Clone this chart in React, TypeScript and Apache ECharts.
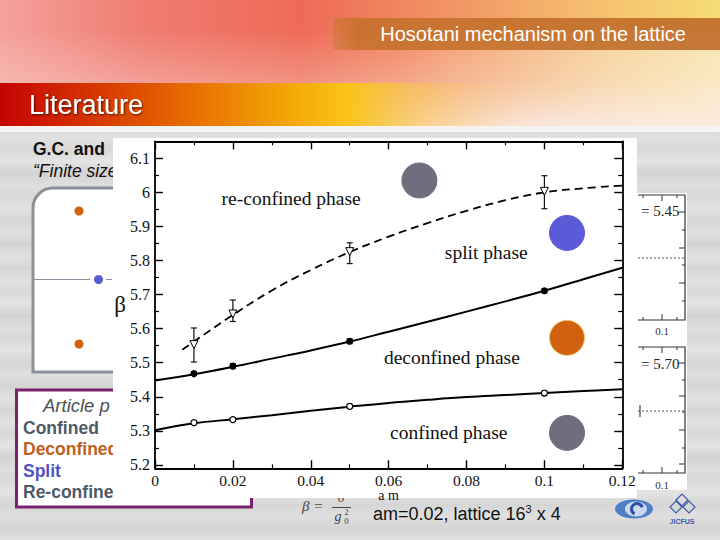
import React, { useEffect, useRef } from 'react';
import * as echarts from 'echarts';

// ---- data ----
const xTickValues = [0, 0.02, 0.04, 0.06, 0.08, 0.1, 0.12];
const yMajorTicks = [5.2, 5.3, 5.4, 5.5, 5.6, 5.7, 5.8, 5.9, 6.0, 6.1];
const yMinorTicks = [5.25, 5.35, 5.45, 5.55, 5.65, 5.75, 5.85, 5.95, 6.05];

const amPoints = [0.01, 0.02, 0.05, 0.1];
const confinedBeta = [5.324, 5.333, 5.372, 5.411];
const confinedLow = [5.319, 5.328, 5.366, 5.405];
const confinedHigh = [5.329, 5.338, 5.378, 5.417];
const deconfinedBeta = [5.468, 5.49, 5.563, 5.711];
const deconfinedLow = [5.463, 5.483, 5.556, 5.705];
const deconfinedHigh = [5.473, 5.497, 5.57, 5.717];
const splitBeta = [5.553, 5.643, 5.826, 6.003];
const splitLow = [5.502, 5.621, 5.791, 5.952];
const splitHigh = [5.602, 5.684, 5.852, 6.049];

const fitX = [0, 0.01, 0.02, 0.03, 0.04, 0.05, 0.06, 0.07, 0.08, 0.09, 0.1, 0.11, 0.12];
const confinedFit = [5.302, 5.322, 5.334, 5.346, 5.359, 5.371, 5.382, 5.391, 5.399, 5.405, 5.411, 5.417, 5.422];
const deconfinedFit = [5.448, 5.466, 5.488, 5.512, 5.536, 5.562, 5.591, 5.62, 5.65, 5.68, 5.711, 5.745, 5.779];
const splitFitX = [0.007, 0.01, 0.02, 0.03, 0.04, 0.05, 0.06, 0.07, 0.08, 0.09, 0.1, 0.11, 0.12];
const splitFit = [5.538, 5.562, 5.64, 5.712, 5.772, 5.825, 5.87, 5.91, 5.946, 5.977, 6.0, 6.012, 6.02];

const phaseX = [0.0679, 0.1058, 0.1058, 0.1058];
const phaseY = [6.035, 5.881, 5.573, 5.294];
const phaseColors = ['#6e6e7e', '#5b5bd8', '#d0620f', '#6e6e7e'];

const phaseLabels = ['re-confined phase', 'split phase', 'deconfined phase', 'confined phase'];
const legendWords = ['Confined', 'Deconfined', 'Split', 'Re-confined'];

const SERIF = '"Liberation Serif", "Times New Roman", serif';
const SANS = '"Liberation Sans", Arial, sans-serif';

function txt(text: string, x: number, y: number, font: string, fill: string, align = 'left', z = 0, extra: any = {}) {
  return {
    type: 'text',
    z,
    style: { text, x, y, font, fill, align, verticalAlign: 'middle', textAlign: align, textVerticalAlign: 'middle', ...extra },
  };
}
function ln(x1: number, y1: number, x2: number, y2: number, stroke: string, lineWidth: number, z = 0, extra: any = {}) {
  return { type: 'line', z, shape: { x1, y1, x2, y2 }, style: { stroke, lineWidth, ...extra } };
}

function buildGraphics() {
  const g: any[] = [];
  // brushed-metal background
  const streak = ['#d5d5d5', '#e1e1e1', '#d8d8d8', '#e4e4e4', '#d3d3d3', '#dedede', '#d9d9d9', '#e3e3e3', '#d6d6d6', '#dfdfdf', '#d4d4d4', '#e2e2e2'];
  const stops = [] as any[];
  for (let i = 0; i < 36; i++) stops.push({ offset: i / 35, color: streak[i % streak.length] });
  g.push({ type: 'rect', z: -100, shape: { x: 0, y: 126, width: 720, height: 414 }, style: { fill: new echarts.graphic.LinearGradient(0, 0, 0, 1, stops) } });
  // header
  g.push({
    type: 'rect', z: -99, shape: { x: 0, y: 0, width: 720, height: 130 },
    style: { fill: new echarts.graphic.LinearGradient(0, 0, 1, 0, [
      { offset: 0, color: '#f3a29a' }, { offset: 0.2, color: '#f07c72' }, { offset: 0.42, color: '#ee6a56' },
      { offset: 0.65, color: '#f29a66' }, { offset: 0.85, color: '#f5c470' }, { offset: 1, color: '#f6dc74' }]) },
  });
  g.push({
    type: 'rect', z: -98, shape: { x: 0, y: 30, width: 720, height: 100 },
    style: { fill: new echarts.graphic.LinearGradient(0, 0, 0, 1, [
      { offset: 0, color: 'rgba(250,236,230,0)' }, { offset: 0.5, color: 'rgba(250,232,224,0.3)' }, { offset: 1, color: 'rgba(251,240,236,0.85)' }]) },
  });
  g.push({
    type: 'rect', z: -97, shape: { x: 0, y: 30, width: 720, height: 100 },
    style: { fill: new echarts.graphic.LinearGradient(0, 0, 1, 0, [
      { offset: 0, color: 'rgba(250,236,230,0)' }, { offset: 0.55, color: 'rgba(250,236,230,0)' }, { offset: 1, color: 'rgba(251,238,232,0.55)' }]) },
  });
  g.push({ type: 'rect', z: -96, shape: { x: 0, y: 126, width: 720, height: 6 }, style: { fill: 'rgba(245,245,245,0.9)' } });
  // Literature bar
  g.push({
    type: 'rect', z: -95, shape: { x: 0, y: 83, width: 720, height: 43 },
    style: { fill: new echarts.graphic.LinearGradient(0, 0, 1, 0, [
      { offset: 0, color: '#c40404' }, { offset: 0.14, color: '#d83a02' }, { offset: 0.28, color: '#e87402' },
      { offset: 0.4, color: '#f3a606' }, { offset: 0.48, color: '#f8c414' }, { offset: 0.58, color: 'rgba(248,200,70,0.55)' },
      { offset: 0.72, color: 'rgba(248,200,120,0)' }, { offset: 1, color: 'rgba(248,200,120,0)' }]) },
  });
  g.push(txt('Literature', 29, 105, `27px ${SANS}`, '#ffffff', 'left', -94, { textShadowColor: 'rgba(0,0,0,0.65)', textShadowBlur: 2, textShadowOffsetX: 1, textShadowOffsetY: 1 }));
  // title bar
  g.push({
    type: 'rect', z: -95, shape: { x: 333, y: 18, width: 387, height: 32 },
    style: { fill: new echarts.graphic.LinearGradient(0, 0, 1, 0, [
      { offset: 0, color: 'rgba(200,120,50,0.45)' }, { offset: 0.06, color: 'rgba(196,112,42,0.85)' }, { offset: 1, color: 'rgba(190,106,40,0.9)' }]) },
  });
  g.push(txt('Hosotani mechanism on the lattice', 686, 34, `20px ${SANS}`, '#ffffff', 'right', -94));

  // left content (behind the main panel)
  g.push(txt('G.C. and', 33, 149, `bold 17.5px ${SANS}`, '#111111', 'left', -90));
  g.push(txt('\u201CFinite size', 33, 171, `italic 17.5px ${SANS}`, '#111111', 'left', -90));
  g.push({ type: 'rect', z: -90, shape: { x: 33, y: 188, width: 200, height: 184, r: [20, 0, 0, 0] }, style: { fill: '#ffffff', stroke: '#8a9098', lineWidth: 3 } });
  g.push({ type: 'circle', z: -89, shape: { cx: 79, cy: 211, r: 4.5 }, style: { fill: '#d0620f' } });
  g.push({ type: 'circle', z: -89, shape: { cx: 79, cy: 344, r: 4.5 }, style: { fill: '#d0620f' } });
  g.push(ln(34, 279.5, 90, 279.5, '#8a90a0', 1, -89));
  g.push(ln(106, 279.5, 112, 279.5, '#8a90a0', 1, -89));
  g.push({ type: 'circle', z: -89, shape: { cx: 98.5, cy: 279.5, r: 4.5 }, style: { fill: '#5b5bd0' } });
  // purple legend box
  g.push({ type: 'rect', z: -90, shape: { x: 16.5, y: 390, width: 235, height: 117 }, style: { fill: '#ffffff', stroke: '#7b226f', lineWidth: 3 } });
  g.push(txt('Article p', 43, 405, `italic 18.5px ${SANS}`, '#4a5058', 'left', -89));
  const legendColors = ['#4d5a66', '#c0601a', '#5252c2', '#4d5a66'];
  const legendY = [427.5, 449.3, 470.7, 491.5];
  legendWords.forEach((w, i) => g.push(txt(w, 23, legendY[i], `bold 17.5px ${SANS}`, legendColors[i], 'left', -89)));

  // formula numerator (mostly hidden by the panel)
  g.push(txt('6', 341, 497, `italic 13px ${SERIF}`, '#444444', 'center', -85));

  // main white panel and right inset panel
  g.push({ type: 'rect', z: -80, shape: { x: 113, y: 138, width: 524, height: 360 }, style: { fill: '#ffffff' } });
  g.push({ type: 'rect', z: -80, shape: { x: 637, y: 193, width: 50, height: 297 }, style: { fill: '#ffffff' } });

  // right inset details
  const ink = '#333333';
  g.push({ type: 'polyline', z: -79, shape: { points: [[638, 195], [685, 195], [685, 320], [638, 320]] }, style: { stroke: ink, lineWidth: 1.2, fill: 'none' } });
  g.push({ type: 'polyline', z: -79, shape: { points: [[638, 347], [685, 347], [685, 473], [638, 473]] }, style: { stroke: ink, lineWidth: 1.2, fill: 'none' } });
  [[643, 3], [662, 6], [677, 3]].forEach(([x, l]) => {
    g.push(ln(x, 195, x, 195 + l, ink, 1, -79));
    g.push(ln(x, 320, x, 320 - l, ink, 1, -79));
    g.push(ln(x, 347, x, 347 + l, ink, 1, -79));
    g.push(ln(x, 473, x, 473 - l, ink, 1, -79));
  });
  [[212, 6], [230, 3], [248, 6], [265, 3], [283, 6], [301, 3], [363, 6], [380, 3], [396, 6], [412, 3], [430, 6], [448, 3], [464, 6]].forEach(([y, l]) => {
    g.push(ln(685, y, 685 - l, y, ink, 1, -79));
  });
  g.push(txt('= 5.45', 641, 211, `15px ${SERIF}`, '#222222', 'left', -79));
  g.push(txt('= 5.70', 641, 364, `15px ${SERIF}`, '#222222', 'left', -79));
  g.push(ln(638, 258, 684, 258, '#555555', 1, -79, { lineDash: [2, 2] }));
  g.push(ln(638, 411, 684, 411, '#555555', 1, -79, { lineDash: [2, 2] }));
  g.push(ln(640, 405, 640, 417, '#444444', 1.2, -79));
  g.push(txt('0.1', 662, 331, `11px ${SERIF}`, '#333333', 'center', -79));
  g.push(txt('0.1', 662, 485, `11px ${SERIF}`, '#333333', 'center', -79));

  // phase labels inside the plot
  const lx = [221.6, 444.8, 383.9, 390];
  const ly = [198.1, 252.8, 357.9, 432.5];
  phaseLabels.forEach((t, i) => g.push(txt(t, lx[i], ly[i], `19.5px ${SERIF}`, '#111111', 'left', 20)));

  // bottom formula and caption
  g.push(txt('\u03B2 =', 302, 506, `italic 15px ${SERIF}`, '#444444', 'left', 20));
  g.push(ln(332, 507.5, 351, 507.5, '#444444', 1, 20));
  g.push(txt('g', 338, 516.5, `italic 14px ${SERIF}`, '#444444', 'center', 20));
  g.push(txt('0', 346.5, 520.5, `9px ${SERIF}`, '#444444', 'center', 20));
  g.push(txt('2', 346.5, 512, `8px ${SERIF}`, '#444444', 'center', 20));
  g.push({
    type: 'text', z: 20,
    style: {
      text: '{a|am=0.02, lattice 16}{s|3}{a| x 4}', x: 373, y: 513.5,
      align: 'left', verticalAlign: 'middle', textAlign: 'left', textVerticalAlign: 'middle',
      rich: {
        a: { fontSize: 18, fontFamily: SANS, fill: '#111111', color: '#111111', lineHeight: 20 },
        s: { fontSize: 11, fontFamily: SANS, fill: '#111111', color: '#111111', verticalAlign: 'top', lineHeight: 12 },
      },
    },
  });
  // logos
  g.push({ type: 'ellipse', z: 20, shape: { cx: 634, cy: 509, rx: 19, ry: 9.5 }, style: { fill: '#4f7ec6' } });
  g.push({ type: 'ellipse', z: 21, shape: { cx: 636, cy: 509, rx: 11, ry: 7.5 }, style: { fill: '#c9d8ef' } });
  g.push({ type: 'arc', z: 22, shape: { cx: 637, cy: 509, r: 5.5, startAngle: 0.65 * Math.PI, endAngle: 1.9 * Math.PI, clockwise: true }, style: { stroke: '#2b4f9c', lineWidth: 3, fill: 'none' } });
  g.push({ type: 'polygon', z: 20, shape: { points: [[676, 500], [682, 494], [688, 500], [682, 506]] }, style: { fill: 'none', stroke: '#3a5aa8', lineWidth: 1.2 } });
  g.push({ type: 'polygon', z: 20, shape: { points: [[683, 507], [689, 501], [695, 507], [689, 513]] }, style: { fill: 'none', stroke: '#3a5aa8', lineWidth: 1.2 } });
  g.push({ type: 'polygon', z: 20, shape: { points: [[670, 507], [676, 501], [682, 507], [676, 513]] }, style: { fill: 'none', stroke: '#3a5aa8', lineWidth: 1.2 } });
  g.push(txt('JICFUS', 682, 521, `bold 7px ${SANS}`, '#3a5aa8', 'center', 20));
  return g;
}

function errorBarItem(params: any, api: any) {
  const x = api.value(0);
  const p1 = api.coord([x, api.value(1)]);
  const p2 = api.coord([x, api.value(2)]);
  const w = 3;
  const style = { stroke: '#111111', lineWidth: 1.2 };
  return {
    type: 'group',
    children: [
      { type: 'line', shape: { x1: p1[0], y1: p1[1], x2: p2[0], y2: p2[1] }, style },
      { type: 'line', shape: { x1: p1[0] - w, y1: p1[1], x2: p1[0] + w, y2: p1[1] }, style },
      { type: 'line', shape: { x1: p2[0] - w, y1: p2[1], x2: p2[0] + w, y2: p2[1] }, style },
    ],
  };
}

function buildOption() {
  const frame = { show: true, onZero: false, lineStyle: { color: '#000000', width: 1.8 } };
  const noLine = { show: false, onZero: false };
  const baseY = { type: 'value', min: 5.19, max: 6.15, splitLine: { show: false }, gridIndex: 0 };
  const errData = [
    ...amPoints.map((x, i) => [x, confinedLow[i], confinedHigh[i]]),
    ...amPoints.map((x, i) => [x, deconfinedLow[i], deconfinedHigh[i]]),
    ...amPoints.map((x, i) => [x, splitLow[i], splitHigh[i]]),
  ];
  return {
    animation: false,
    backgroundColor: '#dadada',
    grid: { left: 155, right: 97.7, top: 141.3, bottom: 71.7, containLabel: false, outerBoundsMode: 'none' },
    xAxis: [
      {
        type: 'value', min: 0, max: 0.12, interval: 0.02, position: 'bottom',
        axisLine: frame,
        axisTick: { show: true, inside: true, length: 8, lineStyle: { color: '#000', width: 1.4 } },
        minorTick: { show: true, splitNumber: 2, length: 4, lineStyle: { color: '#000', width: 1.2 } },
        axisLabel: { fontFamily: SERIF, fontSize: 15.5, lineHeight: 15, color: '#111', margin: 5, customValues: xTickValues },
        splitLine: { show: false },
        name: 'a m', nameLocation: 'middle', nameGap: 20, nameMoveOverlap: false,
        nameTextStyle: { fontFamily: SERIF, fontSize: 14, color: '#111', lineHeight: 14 },
      },
      {
        type: 'value', min: 0, max: 0.12, interval: 0.02, position: 'top',
        axisLine: frame,
        axisTick: { show: true, inside: true, length: 8, lineStyle: { color: '#000', width: 1.4 } },
        minorTick: { show: true, splitNumber: 2, length: 4, lineStyle: { color: '#000', width: 1.2 } },
        axisLabel: { show: false },
        splitLine: { show: false },
      },
    ],
    yAxis: [
      {
        ...baseY, position: 'left', axisLine: frame,
        axisTick: { show: true, inside: true, length: 8, customValues: yMajorTicks, lineStyle: { color: '#000', width: 1.4 } },
        axisLabel: {
          customValues: yMajorTicks, fontFamily: SERIF, fontSize: 16, color: '#111', margin: 5,
          formatter: (v: number) => String(Math.round(v * 10) / 10),
        },
        name: '\u03B2', nameLocation: 'middle', nameRotate: 0, nameGap: 29, nameMoveOverlap: false,
        nameTextStyle: { fontFamily: SERIF, fontSize: 23, color: '#111' },
      },
      {
        ...baseY, position: 'left', axisLine: noLine,
        axisTick: { show: true, inside: true, length: 4, customValues: yMinorTicks, lineStyle: { color: '#000', width: 1.2 } },
        axisLabel: { show: false },
      },
      {
        ...baseY, position: 'right', axisLine: frame,
        axisTick: { show: true, inside: true, length: 8, customValues: yMajorTicks, lineStyle: { color: '#000', width: 1.4 } },
        axisLabel: { show: false },
      },
      {
        ...baseY, position: 'right', axisLine: noLine,
        axisTick: { show: true, inside: true, length: 4, customValues: yMinorTicks, lineStyle: { color: '#000', width: 1.2 } },
        axisLabel: { show: false },
      },
    ],
    graphic: { elements: buildGraphics() },
    series: [
      {
        name: 'phase markers', type: 'scatter', symbol: 'circle', symbolSize: 35, z: 1,
        data: phaseX.map((x, i) => ({ value: [x, phaseY[i]], itemStyle: { color: phaseColors[i], opacity: 1, borderColor: i === 2 ? '#f2c46a' : phaseColors[i], borderWidth: 1 } })),
      },
      {
        name: 'confined fit', type: 'line', smooth: 0.4, showSymbol: false, symbol: 'none', z: 3,
        lineStyle: { color: '#000', width: 2 }, data: fitX.map((x, i) => [x, confinedFit[i]]),
      },
      {
        name: 'deconfined fit', type: 'line', smooth: 0.4, showSymbol: false, symbol: 'none', z: 3,
        lineStyle: { color: '#000', width: 2 }, data: fitX.map((x, i) => [x, deconfinedFit[i]]),
      },
      {
        name: 'split fit', type: 'line', smooth: 0.4, showSymbol: false, symbol: 'none', z: 3,
        lineStyle: { color: '#000', width: 1.8, type: [8, 5] }, data: splitFitX.map((x, i) => [x, splitFit[i]]),
      },
      {
        name: 'error bars', type: 'custom', renderItem: errorBarItem, z: 4,
        encode: { x: 0, y: [1, 2] }, data: errData,
      },
      {
        name: 'confined', type: 'scatter', symbol: 'circle', symbolSize: 6, z: 5,
        itemStyle: { color: '#ffffff', opacity: 1, borderColor: '#000', borderWidth: 1.2 },
        data: amPoints.map((x, i) => [x, confinedBeta[i]]),
      },
      {
        name: 'deconfined', type: 'scatter', symbol: 'circle', symbolSize: 7, z: 5,
        itemStyle: { color: '#000000', opacity: 1 },
        data: amPoints.map((x, i) => [x, deconfinedBeta[i]]),
      },
      {
        name: 'split', type: 'scatter', symbol: 'triangle', symbolRotate: 180, symbolSize: 8, z: 5,
        itemStyle: { color: '#ffffff', opacity: 1, borderColor: '#000', borderWidth: 1 },
        data: amPoints.map((x, i) => [x, splitBeta[i]]),
      },
    ],
  };
}

export default function App() {
  const ref = useRef<HTMLDivElement>(null);
  useEffect(() => {
    const chart = echarts.init(ref.current as HTMLDivElement, null, { renderer: 'svg', width: 720, height: 540 });
    chart.setOption(buildOption() as any);
    return () => chart.dispose();
  }, []);
  return <div ref={ref} style={{ position: 'fixed', left: 0, top: 0, width: 720, height: 540 }} />;
}
